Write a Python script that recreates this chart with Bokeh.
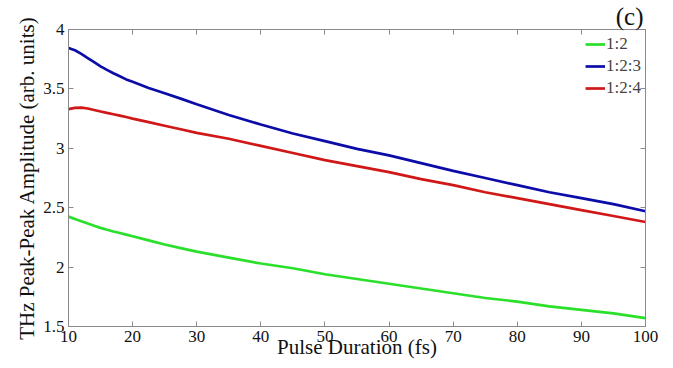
from bokeh.plotting import figure
from bokeh.models import Range1d, FixedTicker, LinearAxis, Legend, LegendItem
from bokeh.embed import file_html
from bokeh.resources import INLINE

pulse = [10, 11, 12, 13, 14, 15, 16, 17, 18, 19, 20, 22.5, 25, 27.5, 30, 35, 40, 45, 50,
         55, 60, 65, 70, 75, 80, 85, 90, 95, 100]
amp_12 = [2.425, 2.405, 2.386, 2.367, 2.348, 2.33, 2.315, 2.30, 2.287, 2.273, 2.26, 2.225,
          2.19, 2.16, 2.13, 2.08, 2.03, 1.99, 1.94, 1.90, 1.86, 1.82, 1.78, 1.74, 1.71, 1.67,
          1.64, 1.61, 1.57]
amp_123 = [3.845, 3.825, 3.795, 3.76, 3.725, 3.69, 3.66, 3.632, 3.606, 3.58, 3.56, 3.508,
           3.463, 3.418, 3.37, 3.28, 3.20, 3.125, 3.06, 2.995, 2.94, 2.875, 2.81, 2.75, 2.69,
           2.63, 2.58, 2.53, 2.47]
amp_124 = [3.33, 3.34, 3.342, 3.335, 3.322, 3.31, 3.298, 3.287, 3.275, 3.263, 3.25, 3.22,
           3.19, 3.16, 3.13, 3.08, 3.02, 2.96, 2.90, 2.85, 2.80, 2.74, 2.69, 2.63, 2.58, 2.53,
           2.48, 2.43, 2.38]

x_ticks = [10, 20, 30, 40, 50, 60, 70, 80, 90, 100]
x_tick_labels = ["10", "20", "30", "40", "50", "60", "70", "80", "90", "100"]
y_ticks = [1.5, 2, 2.5, 3, 3.5, 4]
y_tick_labels = ["1.5", "2", "2.5", "3", "3.5", "4"]

series_names = ["1:2", "1:2:3", "1:2:4"]
series_colors = ["#2ae02a", "#0c0ca8", "#d01818"]
panel_tag = "(c)"

FONT = "Liberation Serif"
GRAY = "#8a8a8a"

p = figure(width=665, height=368, output_backend="svg", toolbar_location=None,
           title=panel_tag,
           x_range=Range1d(10, 100), y_range=Range1d(1.5, 4),
           min_border_left=68, min_border_right=20, min_border_top=27, min_border_bottom=42)
p.xgrid.visible = False
p.ygrid.visible = False
p.outline_line_color = GRAY
p.background_fill_color = "white"

p.title.align = "right"
p.title.text_font = FONT
p.title.text_font_size = "25px"
p.title.text_font_style = "normal"
p.title.text_color = "#111111"
p.title.standoff = 0
p.title.offset = 2

renderers = []
for vals, c in zip([amp_12, amp_123, amp_124], series_colors):
    r = p.line(pulse, vals, line_color=c, line_width=2.7)
    renderers.append(r)

def style_axis(ax):
    ax.axis_line_color = GRAY
    ax.major_tick_line_color = GRAY
    ax.major_tick_in = 5
    ax.major_tick_out = 0
    ax.minor_tick_line_color = None
    ax.major_label_text_font = FONT
    ax.major_label_text_font_size = "17px"
    ax.major_label_text_color = "#111111"
    ax.axis_label_text_font = FONT
    ax.axis_label_text_font_size = "21px"
    ax.axis_label_text_font_style = "normal"
    ax.axis_label_text_color = "#111111"

xax = p.xaxis[0]
xax.ticker = FixedTicker(ticks=x_ticks)
xax.major_label_overrides = {t: l for t, l in zip(x_ticks, x_tick_labels)}
xax.axis_label = "Pulse Duration (fs)"
xax.axis_label_standoff = -10
xax.major_label_standoff = 4
style_axis(xax)

yax = p.yaxis[0]
yax.ticker = FixedTicker(ticks=y_ticks)
yax.major_label_overrides = {t: l for t, l in zip(y_ticks, y_tick_labels)}
yax.axis_label = "THz Peak-Peak Amplitude (arb. units)"
yax.axis_label_standoff = 1
yax.major_label_standoff = 4
style_axis(yax)

top = LinearAxis(ticker=FixedTicker(ticks=x_ticks),
                 major_label_overrides={t: "" for t in x_ticks})
style_axis(top)
top.major_label_standoff = 0
top.major_label_text_font_size = "1px"
p.add_layout(top, "above")
right = LinearAxis(ticker=FixedTicker(ticks=y_ticks),
                   major_label_overrides={t: "" for t in y_ticks})
style_axis(right)
right.major_label_standoff = 0
right.major_label_text_font_size = "1px"
p.add_layout(right, "right")

legend = Legend(items=[LegendItem(label=n, renderers=[r]) for n, r in zip(series_names, renderers)],
                location="top_right", border_line_color=None, background_fill_alpha=0,
                label_text_font=FONT, label_text_font_size="17px", glyph_width=20,
                glyph_height=22, label_height=22, spacing=0, label_standoff=1,
                padding=1, margin=4)
p.add_layout(legend)

open("out.html", "w").write(file_html(p, INLINE))
